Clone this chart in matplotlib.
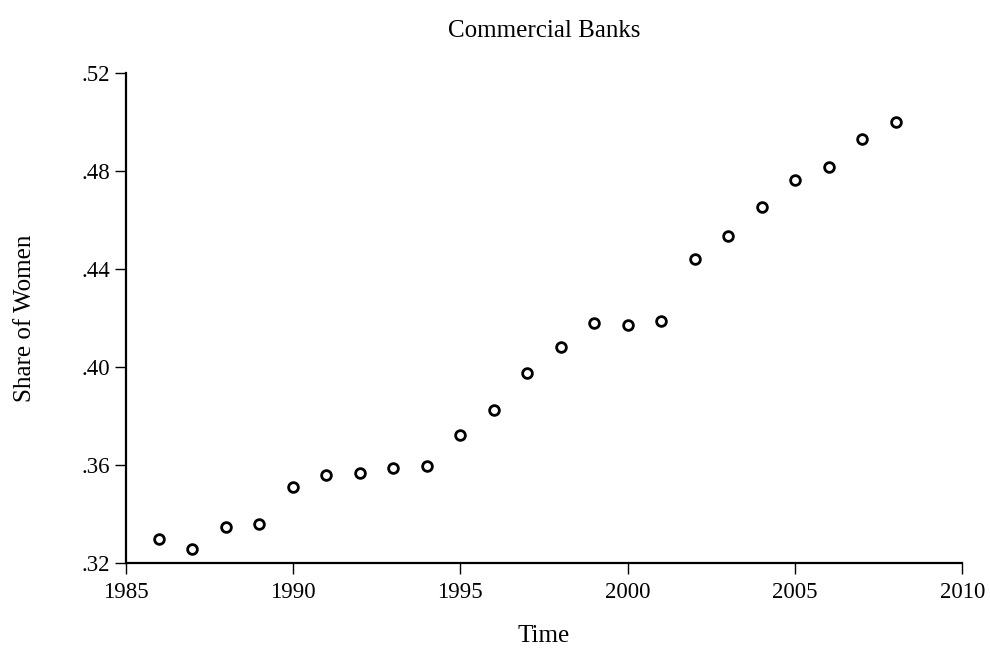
#####################################################################################
# IMPORTS
#####################################################################################

import matplotlib
matplotlib.use('Agg')
import matplotlib.pyplot as plt

#####################################################################################
# DATA
#####################################################################################

# year and share of women employed in commercial banks
years = [1986, 1987, 1988, 1989, 1990, 1991, 1992, 1993, 1994, 1995, 1996, 1997,
         1998, 1999, 2000, 2001, 2002, 2003, 2004, 2005, 2006, 2007, 2008]
share = [0.3296, 0.3255, 0.3346, 0.3359, 0.3511, 0.3560, 0.3565, 0.3588, 0.3596,
         0.3722, 0.3823, 0.3974, 0.4083, 0.4178, 0.4173, 0.4188, 0.4442, 0.4535,
         0.4655, 0.4764, 0.4818, 0.4930, 0.5001]

x_ticks = [1985, 1990, 1995, 2000, 2005, 2010]
y_ticks = [0.32, 0.36, 0.40, 0.44, 0.48, 0.52]
y_tick_labels = ['.32', '.36', '.40', '.44', '.48', '.52']

#####################################################################################
# PLOT
#####################################################################################

plt.rcParams['font.family'] = ['Liberation Serif', 'DejaVu Serif']
fs_tick = 16.5
fs_label = 18

fig = plt.figure(figsize=(9.9, 6.48), dpi=100)
ax = fig.add_axes([0.1268, 0.1316, 0.8454, 0.7553])

ax.plot(years, share, linestyle='none', marker='o', markersize=7,
        markerfacecolor='white', markeredgecolor='black', markeredgewidth=2.0)

ax.set_xlim(1985, 2010)
ax.set_ylim(0.32, 0.52)
ax.set_xticks(x_ticks)
ax.set_yticks(y_ticks)
ax.set_yticklabels(y_tick_labels)

for side in ['top', 'right']:
	ax.spines[side].set_visible(False)
for side in ['left', 'bottom']:
	ax.spines[side].set_linewidth(1.6)

ax.tick_params(axis='both', direction='out', length=8, width=1.0, labelsize=fs_tick,
               colors='black')
ax.tick_params(axis='x', pad=6)
ax.tick_params(axis='y', pad=3)

ax.set_title('Commercial Banks', fontsize=fs_label, pad=26)
ax.set_xlabel('Time', fontsize=fs_label, labelpad=16)
ax.set_ylabel('Share of Women', fontsize=fs_label, labelpad=33)

fig.savefig('out.png', dpi=100)
